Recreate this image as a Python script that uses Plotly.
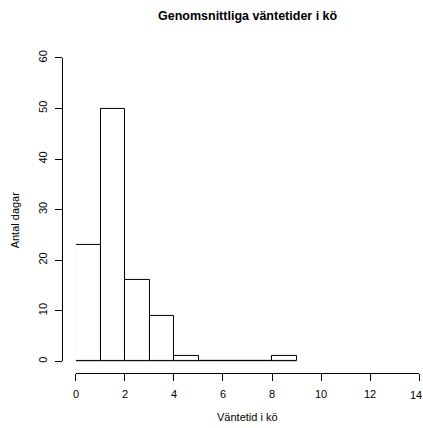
import plotly.graph_objects as go

# Histogram data
bin_edges = [0, 1, 2, 3, 4, 5, 6, 7, 8, 9]
counts = [23, 50, 16, 9, 1, 0, 0, 0, 1]
x_ticks = [0, 2, 4, 6, 8, 10, 12, 14]
x_tick_labels = ["0", "2", "4", "6", "8", "10", "12", "14"]
y_ticks = [0, 10, 20, 30, 40, 50, 60]
title_text = "Genomsnittliga väntetider i kö"
x_title = "Väntetid i kö"
y_title = "Antal dagar"

W, H = 423, 428
centers = [(bin_edges[i] + bin_edges[i + 1]) / 2 for i in range(len(counts))]
widths = [bin_edges[i + 1] - bin_edges[i] for i in range(len(counts))]

FONT = "Liberation Sans, Arial, Helvetica, sans-serif"

fig = go.Figure()
# baseline of empty bins (R draws zero-height rectangles as a line)
fig.add_trace(go.Scatter(x=[bin_edges[0], bin_edges[-1]], y=[0, 0], mode="lines",
                         line=dict(color="black", width=1), hoverinfo="skip",
                         cliponaxis=False, showlegend=False))
fig.add_trace(go.Bar(x=centers, y=counts, width=widths, cliponaxis=False,
                     marker=dict(color="white", line=dict(color="black", width=1)),
                     showlegend=False))

x0_px, x1_px = 73.5, 419.0
y0_px, y1_px = 360.8, 51.0
xaxis_line_px = 373.0
yaxis_line_px = 59.5

# the last tick label sits at the right edge of the page and is cut in the reference;
# draw it as a right-anchored annotation so nothing overflows the page
shown_labels = x_tick_labels[:-1] + [""]

fig.update_layout(
    width=W, height=H,
    margin=dict(l=0, r=0, t=0, b=0),
    paper_bgcolor="white", plot_bgcolor="white",
    font=dict(family=FONT, size=11, color="black"),
    bargap=0,
    xaxis=dict(domain=[x0_px / W, x1_px / W], range=[0, 14], tickvals=x_ticks,
               ticktext=shown_labels,
               anchor="free", position=(H - xaxis_line_px) / H,
               showline=True, linecolor="black", linewidth=1,
               ticks="outside", ticklen=7, tickcolor="black", tickwidth=1,
               ticklabelstandoff=4,
               showgrid=False, zeroline=False, tickfont=dict(size=11)),
    yaxis=dict(domain=[(H - y0_px) / H, (H - y1_px) / H], range=[0, 60], tickvals=y_ticks,
               anchor="free", position=yaxis_line_px / W,
               showline=True, linecolor="black", linewidth=1,
               ticks="outside", ticklen=7, tickcolor="black", tickwidth=1,
               ticklabelstandoff=4,
               tickangle=-90, showgrid=False, zeroline=False, tickfont=dict(size=11)),
    annotations=[
        dict(text="<b>" + title_text + "</b>", x=247 / W, y=1 - 8 / H, xref="paper", yref="paper",
             showarrow=False, xanchor="center", yanchor="middle", font=dict(size=12.5)),
        dict(text=x_title, x=246.5 / W, y=1 - 417.7 / H, xref="paper", yref="paper",
             showarrow=False, xanchor="center", yanchor="middle", font=dict(size=11)),
        dict(text=y_title, x=13 / W, y=1 - 216 / H, xref="paper", yref="paper",
             showarrow=False, xanchor="center", yanchor="middle", textangle=-90,
             font=dict(size=11)),
        dict(text=x_tick_labels[-1], x=1, y=1 - 395 / H, xref="paper", yref="paper",
             showarrow=False, xanchor="right", yanchor="middle", borderpad=0,
             font=dict(size=11)),
    ],
)

fig.write_html(
    "out.html", config={"displayModeBar": False},
    post_script=("document.body.style.margin='0';document.body.style.overflow='hidden';"
                 "document.documentElement.style.overflow='hidden';"))
